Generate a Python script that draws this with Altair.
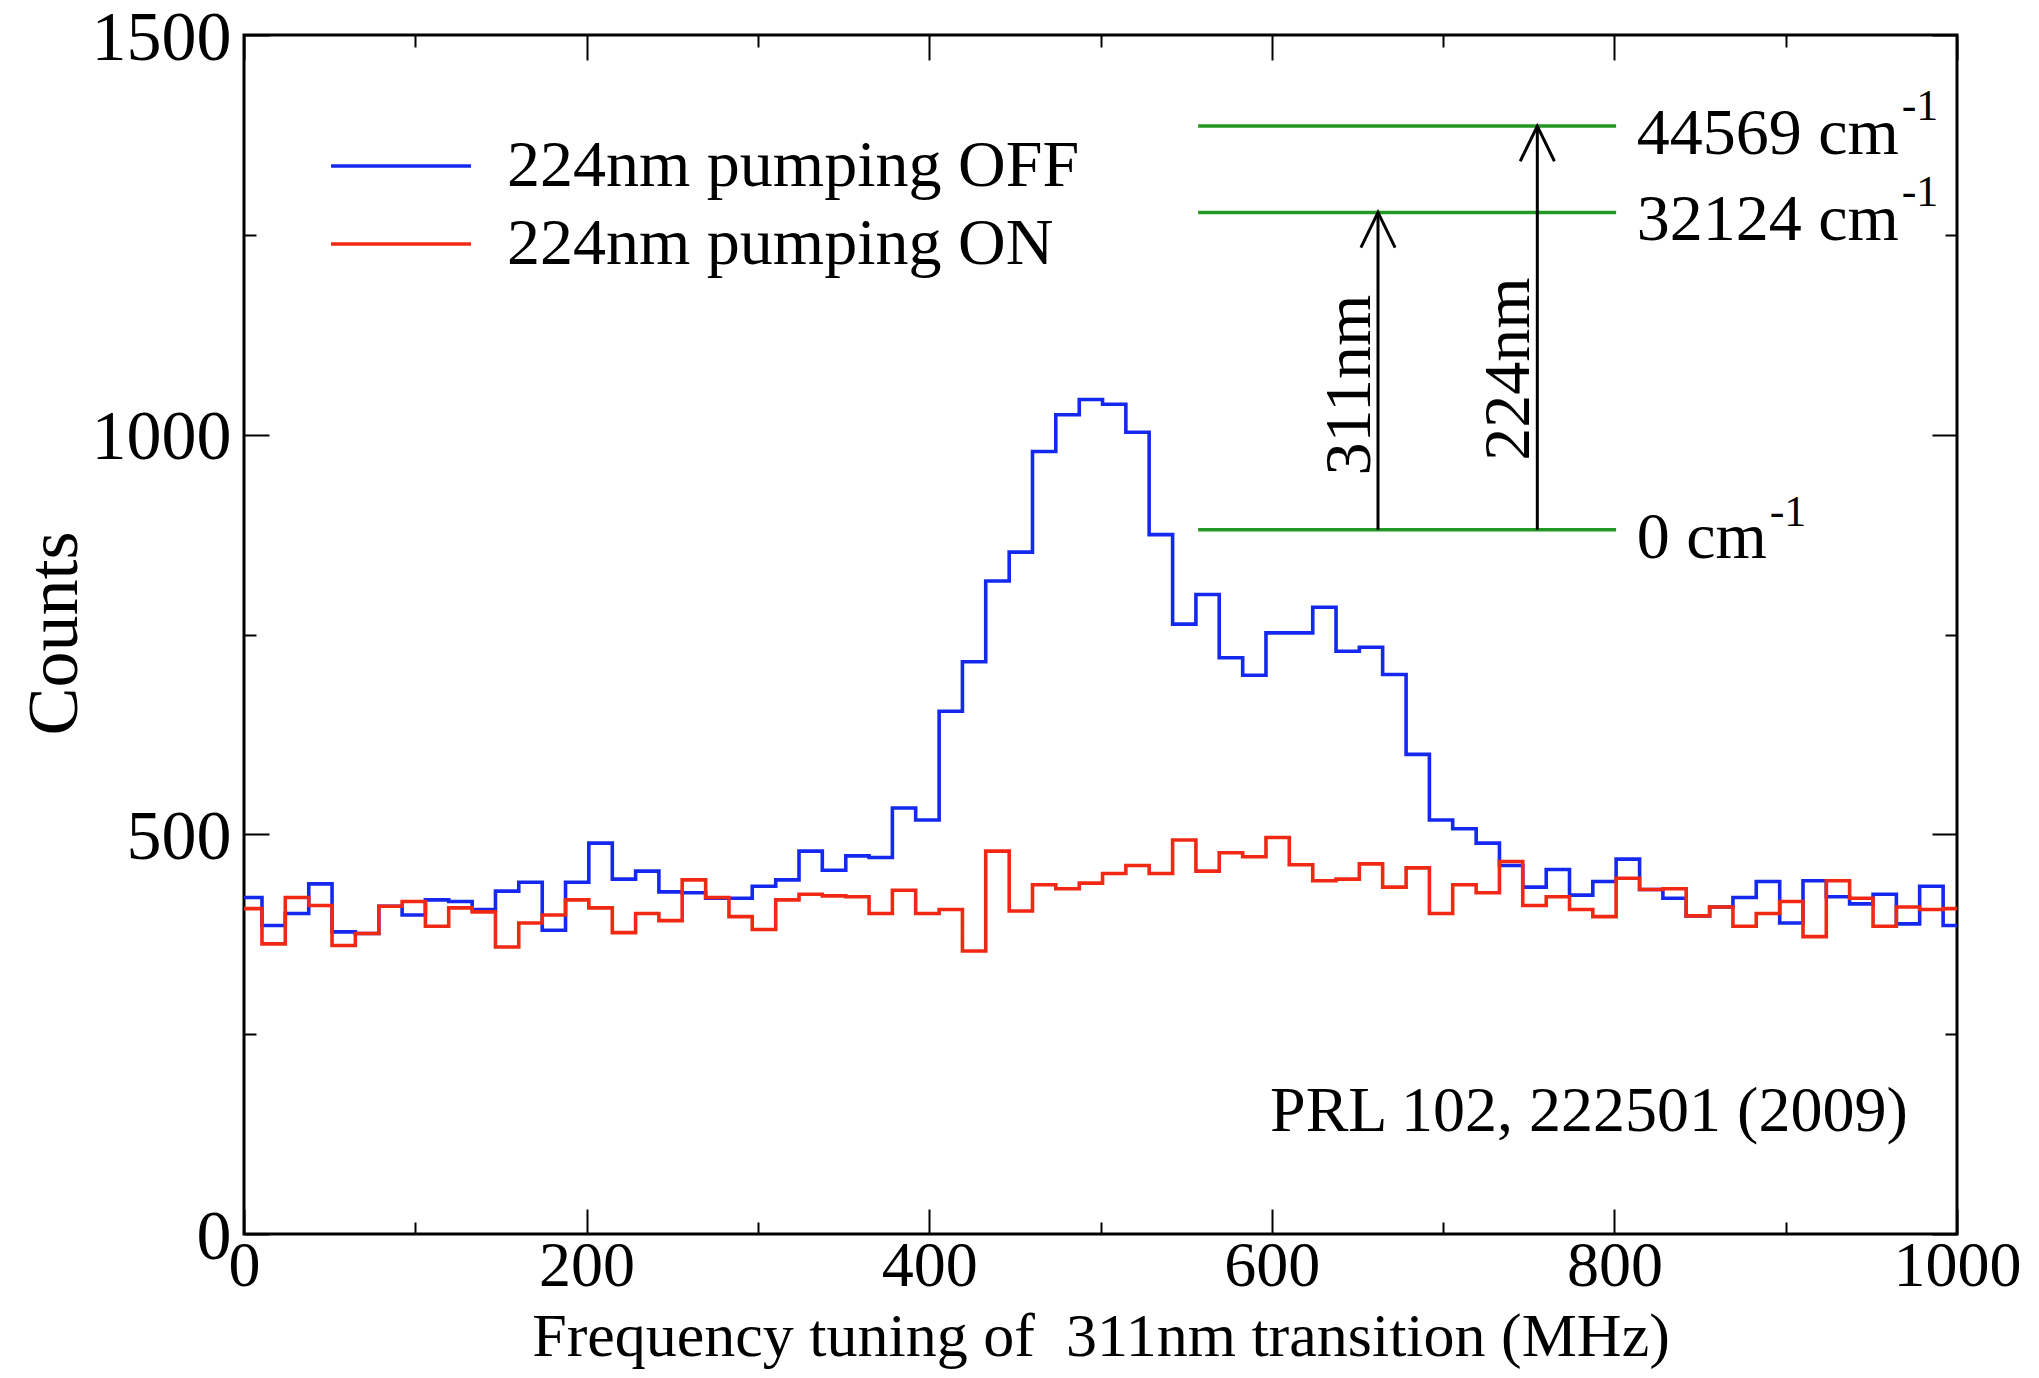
import altair as alt
import pandas as pd

# ---------------- data ----------------
freq_edges = [0.0, 10.5, 24.1, 37.8, 51.4, 65.0, 78.7, 92.3, 105.9, 119.5, 133.2,
              146.8, 160.4, 174.1, 187.7, 201.3, 215.0, 228.6, 242.2, 255.8, 269.5,
              283.1, 296.7, 310.4, 324.0, 337.6, 351.3, 364.9, 378.5, 392.1, 405.8,
              419.4, 433.0, 446.7, 460.3, 473.9, 487.6, 501.2, 514.8, 528.4, 542.1,
              555.7, 569.3, 583.0, 596.6, 610.2, 623.9, 637.5, 651.1, 664.7, 678.4,
              692.0, 705.6, 719.3, 732.9, 746.5, 760.2, 773.8, 787.4, 801.0, 814.7,
              828.3, 841.9, 855.6, 869.2, 882.8, 896.5, 910.1, 923.7, 937.3, 951.0,
              964.6, 978.2, 991.9, 1000.0]

counts_off = [421, 386, 401, 438, 378, 376, 410, 399, 418, 416,
              406, 429, 440, 380, 440, 489, 444, 454, 428, 427,
              420, 420, 435, 443, 479, 455, 473, 471, 533, 518,
              654, 716, 817, 853, 979, 1025, 1044, 1038, 1003, 875,
              763, 800, 721, 699, 752, 752, 784, 729, 734, 700,
              600, 518, 507, 489, 461, 434, 456, 424, 441, 469,
              431, 420, 398, 409, 421, 441, 389, 442, 422, 413,
              425, 388, 435, 386]

counts_on = [407, 363, 421, 411, 361, 376, 410, 416, 385, 408,
             403, 359, 389, 399, 418, 408, 377, 401, 392, 443,
             421, 397, 381, 418, 425, 423, 422, 401, 430, 401,
             406, 354, 479, 404, 437, 432, 439, 451, 461, 451,
             493, 454, 477, 472, 496, 462, 442, 444, 463, 434,
             458, 401, 437, 427, 466, 411, 422, 406, 397, 445,
             431, 432, 398, 409, 385, 401, 416, 372, 442, 420,
             385, 409, 406, 407]

series_names = ["224nm pumping OFF", "224nm pumping ON"]

level_labels = ["0 cm", "32124 cm", "44569 cm"]
level_counts = [881, 1278, 1386]

transition_labels = ["311nm", "224nm"]
transition_upper = [1278, 1386]
transition_lower = [881, 881]

citation = ["PRL 102, 222501 (2009)"]

x_major = [0, 200, 400, 600, 800, 1000]
x_minor = [100, 300, 500, 700, 900]
y_major = [0, 500, 1000, 1500]
y_minor = [250, 750, 1250]

# ---------------- styling / layout constants ----------------
FONT = "Liberation Serif"
BLUE = "#1428f0"
RED = "#f02814"
GREEN = "#229922"
LEVEL_X = (557, 801)
ARROW_X = [662, 755]
ARROW_LABEL_Y = [1062, 1082]
LABEL_X = 813
CITE_X, CITE_Y = 599, 128.5

xs = alt.Scale(domain=[0, 1000], nice=False, zero=False)
ys = alt.Scale(domain=[0, 1500], nice=False, zero=False)


def axis(orient, values, size, labels=False, **kw):
    base = dict(orient=orient, values=values, offset=-size, tickSize=size,
                tickWidth=2, tickColor="black", domain=False, grid=False,
                labels=labels)
    if "title" not in kw:
        base["title"] = None
    base.update(kw)
    return alt.Axis(**base)


bottom_major = axis("bottom", x_major, 25, labels=True, format="d",
                    labelFont=FONT, labelFontSize=64, labelColor="black",
                    labelPadding=0, labelFlush=False, labelOverlap=False,
                    labelLimit=400,
                    title="Frequency tuning of\u00a0 311nm transition (MHz)",
                    titleFont=FONT, titleFontSize=62, titleFontWeight="normal",
                    titleColor="black", titleBaseline="alphabetic", titleY=146,
                    titleLimit=3000)
left_major = axis("left", y_major, 25, labels=True, format="d",
                  labelFont=FONT, labelFontSize=70, labelColor="black",
                  labelPadding=13, labelOffset=3, labelFlush=False,
                  labelOverlap=False, labelLimit=400,
                  title="Counts", titleFont=FONT, titleFontSize=72,
                  titleFontWeight="normal", titleColor="black",
                  titleAngle=270, titleBaseline="alphabetic",
                  titleAlign="center", titleX=-193, titleY=598)
bottom_minor = axis("bottom", x_minor, 12)
left_minor = axis("left", y_minor, 12)
top_major = axis("top", x_major, 25)
right_major = axis("right", y_major, 25)
top_minor = axis("top", x_minor, 12)
right_minor = axis("right", y_minor, 12)

# ---------------- step-line data ----------------
rows = []
for name, vals in zip(series_names, [counts_off, counts_on]):
    for f, c in zip(freq_edges[:-1], vals):
        rows.append({"freq": f, "counts": c, "series": name})
    rows.append({"freq": freq_edges[-1], "counts": vals[-1], "series": name})
steps = pd.DataFrame(rows)

lines = alt.Chart(steps).mark_line(interpolate="step-after", strokeWidth=3.6).encode(
    x=alt.X("freq:Q", scale=xs, axis=bottom_major),
    y=alt.Y("counts:Q", scale=ys, axis=left_major),
    color=alt.Color(
        "series:N",
        scale=alt.Scale(domain=series_names, range=[BLUE, RED]),
        legend=alt.Legend(
            orient="none", legendX=124, legendY=98, title=None, padding=0,
            symbolType="M -4 0 L 4 0", symbolSize=1225, symbolStrokeWidth=3.6,
            labelFont=FONT, labelFontSize=66, labelColor="black",
            labelOffset=73, rowPadding=12, labelLimit=2000,
        ),
    ),
    detail="series:N",
)

# ---------------- level diagram ----------------
levels = pd.DataFrame({"level": level_counts, "label": level_labels,
                       "x1": [LEVEL_X[0]] * 3, "x2": [LEVEL_X[1]] * 3,
                       "lx": [LABEL_X] * 3})

level_lines = alt.Chart(levels).mark_rule(color=GREEN, strokeWidth=3.5).encode(
    x=alt.X("x1:Q", scale=xs, axis=bottom_minor),
    x2="x2:Q",
    y=alt.Y("level:Q", scale=ys, axis=left_minor),
)

level_text = alt.Chart(levels).mark_text(
    align="left", baseline="alphabetic", dy=28, font=FONT, fontSize=66,
    color="black").encode(
    x=alt.X("lx:Q", scale=xs, axis=top_minor),
    y=alt.Y("level:Q", scale=ys, axis=right_minor),
    text="label:N",
)

sup_long = alt.Chart(levels[levels["label"] != "0 cm"]).mark_text(
    align="left", baseline="alphabetic", dx=265, dy=-6, font=FONT, fontSize=44,
    color="black").encode(
    x=alt.X("lx:Q", scale=xs, axis=None),
    y=alt.Y("level:Q", scale=ys, axis=None),
    text=alt.value("-1"),
)
sup_short = alt.Chart(levels[levels["label"] == "0 cm"]).mark_text(
    align="left", baseline="alphabetic", dx=133, dy=-4, font=FONT, fontSize=44,
    color="black").encode(
    x=alt.X("lx:Q", scale=xs, axis=None),
    y=alt.Y("level:Q", scale=ys, axis=None),
    text=alt.value("-1"),
)

trans = pd.DataFrame({"name": transition_labels, "lo": transition_lower,
                      "hi": transition_upper, "ax": ARROW_X,
                      "ly": ARROW_LABEL_Y})

shafts = alt.Chart(trans).mark_rule(color="black", strokeWidth=3).encode(
    x=alt.X("ax:Q", scale=xs, axis=top_major),
    y=alt.Y("lo:Q", scale=ys, axis=right_major),
    y2="hi:Q",
)

heads = alt.Chart(trans).mark_point(
    shape="M -0.95 1.95 L 0 0 L 0.95 1.95", size=1296, filled=False,
    strokeWidth=3, color="black", opacity=1).encode(
    x=alt.X("ax:Q", scale=xs, axis=None),
    y=alt.Y("hi:Q", scale=ys, axis=None),
)

trans_text = alt.Chart(trans).mark_text(
    angle=270, align="center", baseline="alphabetic", dy=-8, font=FONT,
    fontSize=66, color="black").encode(
    x=alt.X("ax:Q", scale=xs, axis=None),
    y=alt.Y("ly:Q", scale=ys, axis=None),
    text="name:N",
)

cite = alt.Chart(pd.DataFrame({"t": citation, "x": [CITE_X], "y": [CITE_Y]})).mark_text(
    align="left", baseline="alphabetic", font=FONT, fontSize=64,
    color="black").encode(
    x=alt.X("x:Q", scale=xs, axis=None),
    y=alt.Y("y:Q", scale=ys, axis=None),
    text="t:N",
)

chart = alt.layer(
    lines, level_lines, level_text, shafts, heads, trans_text,
    sup_long, sup_short, cite,
).resolve_axis(x="independent", y="independent").properties(
    width=1713, height=1199,
    padding={"left": 236, "top": 27, "right": 74, "bottom": 136},
    autosize=alt.AutoSizeParams(type="none"),
    background="white",
).configure(font=FONT).configure_view(stroke="black", strokeWidth=3)

chart.save("out.html", embed_options={"renderer": "svg", "actions": False})
